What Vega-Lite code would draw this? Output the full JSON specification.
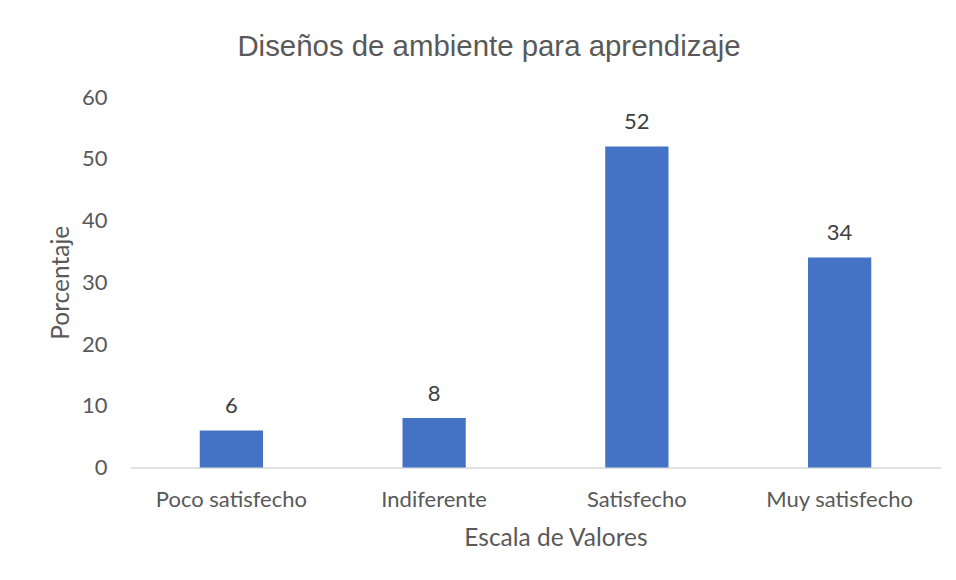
{
  "$schema": "https://vega.github.io/schema/vega-lite/v6.json",
  "width": 811,
  "height": 370.5,
  "autosize": {"type": "none"},
  "padding": {"left": 130, "top": 97, "right": 15, "bottom": 112.5},
  "background": "white",
  "title": {
    "text": "Diseños de ambiente para aprendizaje",
    "font": "Liberation Sans",
    "fontSize": 29.4,
    "fontWeight": "normal",
    "color": "#595959",
    "anchor": "middle",
    "frame": "group",
    "baseline": "alphabetic",
    "offset": 1,
    "dx": -46.5
  },
  "data": {
    "values": [
      {"categoria": "Poco satisfecho", "porcentaje": 6},
      {"categoria": "Indiferente", "porcentaje": 8},
      {"categoria": "Satisfecho", "porcentaje": 52},
      {"categoria": "Muy satisfecho", "porcentaje": 34}
    ]
  },
  "encoding": {
    "x": {
      "field": "categoria",
      "type": "nominal",
      "sort": null,
      "scale": {"paddingInner": 0.688, "paddingOuter": 0.344},
      "axis": {
        "title": "Escala de Valores",
        "labelAngle": 0,
        "ticks": false,
        "domainColor": "#d9d9d9",
        "domainWidth": 1.5,
        "labelFont": "Lato",
        "labelFontSize": 22,
        "labelColor": "#595959",
        "labelPadding": 22,
        "titleFont": "Lato",
        "titleFontSize": 24.5,
        "titleFontWeight": "normal",
        "titleColor": "#595959",
        "titlePadding": 16,
        "titleX": 425.5
      }
    },
    "y": {
      "field": "porcentaje",
      "type": "quantitative",
      "scale": {"domain": [0, 60], "nice": false},
      "axis": {
        "title": "Porcentaje",
        "values": [0, 10, 20, 30, 40, 50, 60],
        "grid": false,
        "domain": false,
        "ticks": false,
        "labelFont": "Lato",
        "labelFontSize": 22,
        "labelColor": "#595959",
        "labelPadding": 23,
        "titleFont": "Lato",
        "titleFontSize": 24.5,
        "titleFontWeight": "normal",
        "titleColor": "#595959",
        "titlePadding": 8
      }
    }
  },
  "layer": [
    {"mark": {"type": "bar", "color": "#4472C4"}},
    {
      "mark": {
        "type": "text",
        "font": "Lato",
        "fontSize": 22,
        "color": "#404040",
        "baseline": "alphabetic",
        "dy": -17.4
      },
      "encoding": {"text": {"field": "porcentaje", "type": "quantitative"}}
    }
  ],
  "config": {"view": {"stroke": null}}
}
